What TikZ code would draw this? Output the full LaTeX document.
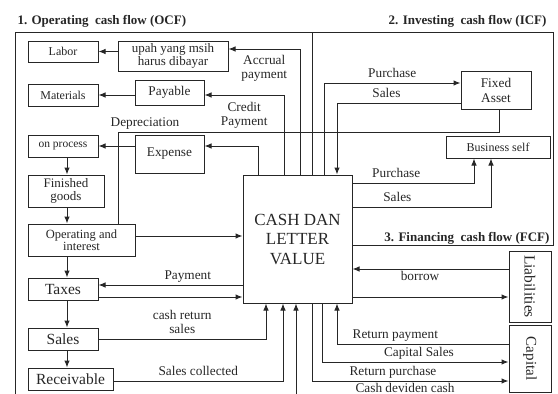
\documentclass[tikz,border=0pt]{standalone}
\usepackage{fontspec}
\setmainfont{Liberation Serif}
\usetikzlibrary{arrows.meta}
\tikzset{%
  >={Latex[width=5.5pt,length=7pt]},
  % Specifications for style of nodes:
       base/.style = {rectangle, draw, inner sep=0pt, align=center,
                      text centered},
   smallbox/.style = {base, font=\fontsize{12}{13}\selectfont},
        box/.style = {base, font=\fontsize{13.3}{14}\selectfont},
     bigbox/.style = {base, font=\fontsize{15.5}{16}\selectfont},
        lbl/.style = {inner sep=2pt, align=center, text depth=3pt,
                      font=\fontsize{13.3}{14}\selectfont},
      title/.style = {inner sep=0pt, font=\bfseries\fontsize{13}{14}\selectfont},
}
\begin{document}
\begin{tikzpicture}[x=1pt, y=-1pt, line width=1pt, color=black!85]
  \useasboundingbox (0,0) rectangle (558,394);
  \clip (0,0) rectangle (558,394);
  % Frame of the three parts
  \coordinate (fbl) at (15,394);
  \coordinate (ftl) at (15,32);
  \coordinate (ftr) at (553,32);
  \coordinate (fcr) at (553,245);
  \coordinate (divtop) at (312,32);
  \coordinate (colx) at (67,0);
  \coordinate (deprec) at (118,132);
  \coordinate (divend) at (509,398);
  \node[title, anchor=base west] at (17,24.5) {1. Operating~~cash flow (OCF)};
  \node[title, anchor=base east] at (547,24.5) {2. Investing~~cash flow (ICF)};
  \node[title, anchor=base east] at (550,241.5) {3. Financing~~cash flow (FCF)};
  % Specification of nodes (position, etc.)
  \node (labor)      [smallbox, minimum width=70pt, minimum height=21pt] at (63,51.5) {Labor};
  \node (upah)       [box, minimum width=110pt, minimum height=30pt,
                      font=\fontsize{13}{13}\selectfont] at (173,56) {upah yang msih\\harus dibayar};
  \node (materials)  [smallbox, minimum width=70pt, minimum height=22pt] at (63,95) {Materials};
  \node (payable)    [box, minimum width=69pt, minimum height=25pt] at (169.5,92.5) {Payable};
  \node (onproc)     [smallbox, minimum width=70pt, minimum height=22pt,
                      font=\fontsize{11.5}{12}\selectfont] at (63,146) {on process};
  \node (expense)    [box, minimum width=69pt, minimum height=38pt] at (169.5,154) {Expense};
  \node (finished)   [box, minimum width=76pt, minimum height=32pt,
                      font=\fontsize{13}{13}\selectfont] at (66,191) {Finished\\goods};
  \node (operating)  [smallbox, minimum width=107pt, minimum height=32pt,
                      font=\fontsize{12.5}{12.5}\selectfont] at (81.5,240) {Operating and\\interest};
  \node (taxes)      [bigbox, minimum width=70pt, minimum height=22pt] at (63,289) {Taxes};
  \node (sales)      [bigbox, minimum width=70pt, minimum height=22pt] at (63,339) {Sales};
  \node (receivable) [bigbox, minimum width=85pt, minimum height=22pt] at (70.5,379) {Receivable};
  \node (cash)       [base, minimum width=109pt, minimum height=128pt,
                      font=\fontsize{17}{19.5}\selectfont] at (297.5,239) {CASH DAN\\LETTER\\VALUE};
  \node (fixed)      [box, minimum width=70pt, minimum height=38pt,
                      font=\fontsize{13.3}{15}\selectfont] at (496,90) {Fixed\\Asset};
  \node (business)   [smallbox, minimum width=104pt, minimum height=22pt] at (498,147) {Business self};
  \node (liab)       [bigbox, minimum width=42pt, minimum height=71pt] at (530,286.5) {\rotatebox{-90}{Liabilities}};
  \node (capital)    [bigbox, minimum width=42pt, minimum height=67pt,
                      font=\fontsize{15}{16}\selectfont] at (530,358.5) {\rotatebox{-90}{Capital}};
  % Frame lines
  \draw (fbl) -- (ftl) -- (ftr) -- (fcr) -- (fcr -| cash.east);
  \draw (divtop) -- (divtop |- cash.north);
  % Specification of lines between nodes specified above
  \draw[->] ([yshift=4.5pt]upah.west) -- (labor.east);
  \draw[->] ([yshift=-2.5pt]payable.west) -- (materials.east);
  \draw[->] ([yshift=8pt]expense.west) -- (onproc.east);
  \draw[->] (onproc.south -| colx) -- (finished.north -| colx);
  \draw[->] (finished.south -| colx) -- (operating.north -| colx);
  \draw[->] (operating.south -| colx) -- (taxes.north -| colx);
  \draw[->] (taxes.south -| colx) -- (sales.north -| colx);
  \draw[->] (sales.south -| colx) -- (receivable.north -| colx);
  \draw[->] ([xshift=2.5pt]cash.north) |- node[lbl, pos=0.75, below, yshift=-4pt] {Accrual\\payment}
            ([yshift=7pt]upah.east);
  \draw[->] ([xshift=-13.5pt]cash.north) |- node[lbl, pos=0.75, below, yshift=-5pt] {Credit\\Payment}
            ([yshift=-2.5pt]payable.east);
  \draw[->] ([xshift=-39.5pt]cash.north) |- ([yshift=8pt]expense.east);
  \draw ([xshift=3pt]fixed.south) |- (deprec) node[lbl, above, xshift=27pt] {Depreciation}
        -- (operating.north -| deprec);
  \draw[->] ([xshift=26.5pt]cash.north) |- node[lbl, pos=0.75, above] {Purchase}
            ([yshift=7pt]fixed.west);
  \draw[->] ([yshift=-13pt]fixed.west) -| node[lbl, pos=0.3, above] {Sales}
            ([xshift=39.5pt]cash.north);
  \draw[->] ([yshift=56pt]cash.east) -| node[lbl, pos=0.18, above] {Purchase}
            ([xshift=-24pt]business.south);
  \draw[->] ([yshift=32pt]cash.east) -| node[lbl, pos=0.162, above] {Sales}
            ([xshift=-7pt]business.south);
  \draw[->] ([yshift=17.5pt]liab.west) -- node[lbl, pos=0.567, below] {borrow}
            ([yshift=-30pt]cash.east);
  \draw[->] ([yshift=-58pt]cash.east) -- ([yshift=-10.5pt]liab.west);
  \draw[->] ([yshift=14.5pt]capital.west) -| node[lbl, pos=0.33, above] {Return payment}
            ([xshift=39.5pt]cash.south);
  \draw[->] ([xshift=24.5pt]cash.south) |- node[lbl, pos=0.76, above] {Capital Sales}
            ([yshift=-3.5pt]capital.west);
  \draw[->] ([xshift=14.5pt]cash.south) |- node[lbl, pos=0.706, above] {Return purchase}
            ([yshift=-22.5pt]capital.west);
  \draw[->] (divend) -| node[lbl, pos=0.244, above] {Cash deviden cash}
            ([xshift=-1.5pt]cash.south);
  \draw[->] ([yshift=4pt]operating.east) -- ([yshift=3pt]cash.west);
  \draw[->] ([yshift=-46pt]cash.west) -- node[lbl, pos=0.38, above] {Payment}
            ([yshift=4pt]taxes.east);
  \draw[->] ([yshift=-8pt]taxes.east) -- ([yshift=-58pt]cash.west);
  \draw[->] (sales.east) -| node[lbl, pos=0.25, above] {cash return\\sales}
            ([xshift=-31.5pt]cash.south);
  \draw[->] ([yshift=-2pt]receivable.east) -| node[lbl, pos=0.25, above] {Sales collected}
            ([xshift=-14.5pt]cash.south);
\end{tikzpicture}
\end{document}
